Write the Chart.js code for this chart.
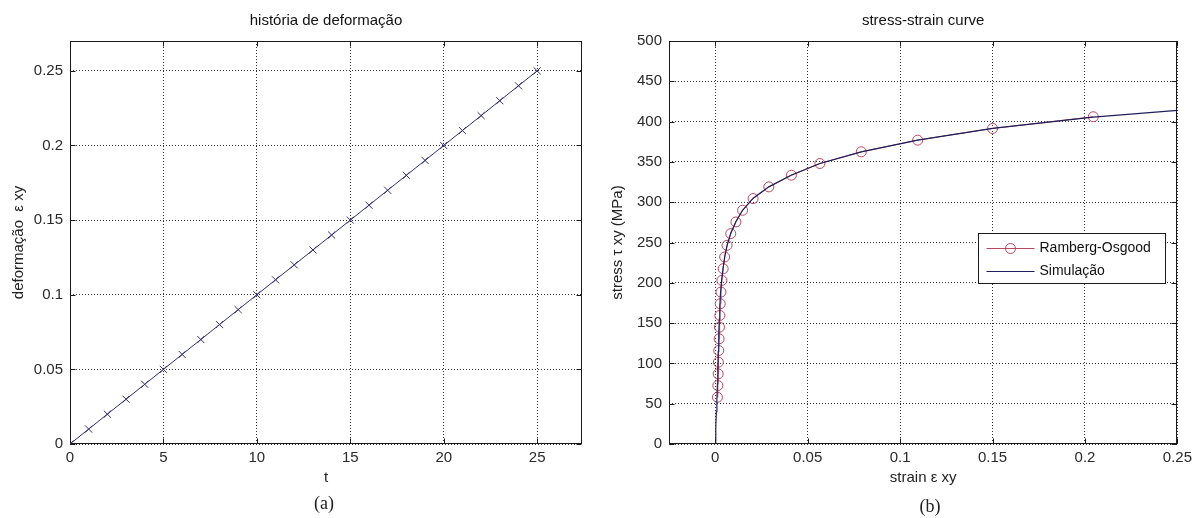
<!DOCTYPE html>
<html>
<head>
<meta charset="utf-8">
<title>história de deformação / stress-strain curve</title>
<script src="https://cdn.jsdelivr.net/npm/chart.js@4.4.0/dist/chart.umd.min.js"></script>
<style>
  body { margin: 0; background: #fff; width: 1197px; height: 518px; position: relative; overflow: hidden; }
  .panel { position: absolute; top: 0; height: 518px; }
  #left { left: 0; width: 598px; }
  #right { left: 598px; width: 599px; }
  .caption {
    position: absolute; width: 40px; text-align: center;
    font-family: "Liberation Serif", "DejaVu Serif", serif; font-size: 18px; line-height: 20px; color: #222;
  }
</style>
</head>
<body>
<div class="panel" id="left"><canvas id="strainChart" width="598" height="518"></canvas></div>
<div class="panel" id="right"><canvas id="stressChart" width="599" height="518"></canvas></div>
<div class="caption" style="left:304px; top:493px;">(a)</div>
<div class="caption" style="left:910px; top:496px;">(b)</div>

<script>
// (a) strain history
const tValues = [0, 1, 2, 3, 4, 5, 6, 7, 8, 9, 10, 11, 12, 13, 14, 15, 16, 17, 18, 19, 20, 21, 22, 23, 24, 25];
const strainHistory = [0, 0.01, 0.02, 0.03, 0.04, 0.05, 0.06, 0.07, 0.08, 0.09, 0.1, 0.11, 0.12, 0.13,
  0.14, 0.15, 0.16, 0.17, 0.18, 0.19, 0.2, 0.21, 0.22, 0.23, 0.24, 0.25];
const tTicks = [0, 5, 10, 15, 20, 25];
const strainTicks = [0, 0.05, 0.1, 0.15, 0.2, 0.25];

// (b) stress-strain curve
const roStrain = [0.0012, 0.0014, 0.0016, 0.0017, 0.0019, 0.0021, 0.0023, 0.0025, 0.0027, 0.0031, 0.0036,
  0.0043, 0.0051, 0.0064, 0.0084, 0.0112, 0.0148, 0.0205, 0.029, 0.0412, 0.0566, 0.079, 0.1095, 0.15, 0.2045];
const roStress = [58, 72.5, 87, 101.5, 116, 130.5, 145, 159.5, 174, 188.5, 203, 217.5, 232, 246.5, 261,
  275.5, 290, 304.5, 319, 333.5, 348, 362.5, 377, 391.5, 406];
const simStrain = [0, 0.0003, 0.0006, 0.0009, 0.0012, 0.0014, 0.0016, 0.0019, 0.0022, 0.0025, 0.0029, 0.0035,
  0.0043, 0.0052, 0.0065, 0.0085, 0.0112, 0.0148, 0.0205, 0.029, 0.041, 0.0566, 0.079, 0.1095, 0.15, 0.2045, 0.25];
const simStress = [0, 20, 40, 55, 75, 95, 115, 135, 155, 172, 188, 204, 219, 233, 247, 262, 276, 290, 305,
  319, 333.5, 348, 362.5, 377, 391.5, 405.5, 414];
const strainAxisTicks = [0, 0.05, 0.1, 0.15, 0.2, 0.25];
const stressTicks = [0, 50, 100, 150, 200, 250, 300, 350, 400, 450, 500];

const FONT = '"Liberation Sans", Arial, Helvetica, sans-serif';
const NAVY = '#2e2e72';
const SIM_COLOR = '#1f1f5c';
const RO_COLOR = '#b8465e';

// Pair up x and y arrays for scatter datasets
function toPoints(xs, ys) {
  return xs.map((x, i) => ({ x: x, y: ys[i] }));
}

// Build a MATLAB-looking linear axis
function makeAxis(cfg) {
  const horizontal = cfg.horizontal;
  return {
    type: 'linear',
    min: cfg.min,
    max: cfg.max,
    afterBuildTicks: function (scale) {
      scale.ticks = cfg.ticks.map(v => ({ value: v }));
    },
    afterFit: function (scale) {
      if (horizontal) scale.height = 74;
      else scale.width = cfg.width;
    },
    grid: { color: '#333', lineWidth: 1, drawTicks: false },
    border: { display: false, dash: [1, 2] },
    ticks: {
      color: '#2a2a2a',
      font: { family: FONT, size: 15 },
      padding: horizontal ? 5 : 7,
      autoSkip: false,
      maxRotation: 0,
      callback: v => String(v)
    },
    title: {
      display: true,
      text: cfg.title,
      color: '#222',
      font: { family: FONT, size: 15 },
      padding: horizontal ? { top: 0, bottom: 31 } : { top: cfg.titlePad, bottom: 0 }
    }
  };
}

// Box around the plot area with inward tick marks
const axesBox = {
  id: 'axesBox',
  beforeDatasetsDraw(chart) {
    const { ctx, chartArea: a, scales } = chart;
    const L = Math.round(a.left) + 0.5, R = Math.round(a.right) - 0.5;
    const T = Math.round(a.top) + 0.5, B = Math.round(a.bottom) - 0.5;
    const len = 5;
    ctx.save();
    ctx.strokeStyle = '#1a1a1a';
    ctx.lineWidth = 1;
    ctx.strokeRect(L, T, R - L, B - T);
    ctx.beginPath();
    scales.x.ticks.forEach(t => {
      const px = Math.round(scales.x.getPixelForValue(t.value)) + 0.5;
      ctx.moveTo(px, B); ctx.lineTo(px, B - len);
      ctx.moveTo(px, T); ctx.lineTo(px, T + len);
    });
    scales.y.ticks.forEach(t => {
      const py = Math.round(scales.y.getPixelForValue(t.value)) + 0.5;
      ctx.moveTo(L, py); ctx.lineTo(L + len, py);
      ctx.moveTo(R, py); ctx.lineTo(R - len, py);
    });
    ctx.stroke();
    ctx.restore();
  }
};

// Legend box drawn inside the plot area (right chart)
const insideLegend = {
  id: 'insideLegend',
  afterDraw(chart) {
    const { ctx, chartArea: a } = chart;
    const bx = Math.round(a.right - 199) + 0.5;
    const by = Math.round(a.top + 192) + 0.5;
    const bw = 187, bh = 50;
    ctx.save();
    ctx.fillStyle = '#fff';
    ctx.fillRect(bx, by, bw, bh);
    ctx.strokeStyle = '#1a1a1a';
    ctx.lineWidth = 1;
    ctx.strokeRect(bx, by, bw, bh);
    const order = [1, 0];
    order.forEach((di, row) => {
      const ds = chart.data.datasets[di];
      const y = Math.round(by + 14 + row * 23.5) + 0.5;
      ctx.strokeStyle = ds.borderColor;
      ctx.beginPath();
      ctx.moveTo(bx + 8, y);
      ctx.lineTo(bx + 56, y);
      ctx.stroke();
      if (ds.pointRadius > 0) {
        ctx.strokeStyle = ds.pointBorderColor;
        ctx.beginPath();
        ctx.arc(bx + 32, y, ds.pointRadius, 0, Math.PI * 2);
        ctx.stroke();
      }
      ctx.fillStyle = '#111';
      ctx.font = '14px ' + FONT;
      ctx.textBaseline = 'middle';
      ctx.fillText(ds.label, bx + 61, y);
    });
    ctx.restore();
  }
};

function titleOptions(text) {
  return {
    display: true,
    text: text,
    fullSize: false,
    color: '#111',
    font: { family: FONT, size: 15, weight: 'normal', lineHeight: 1.2 },
    padding: { top: 12, bottom: 11 }
  };
}

// (a) strain history chart
new Chart(document.getElementById('strainChart'), {
  type: 'scatter',
  data: {
    datasets: [{
      label: 'deformação',
      data: toPoints(tValues, strainHistory),
      showLine: true,
      borderColor: NAVY,
      borderWidth: 1,
      pointStyle: 'crossRot',
      pointRadius: 5,
      pointBorderColor: NAVY,
      pointBorderWidth: 1,
      backgroundColor: 'transparent'
    }]
  },
  options: {
    responsive: false,
    animation: false,
    devicePixelRatio: 1,
    layout: { padding: { left: 0, right: 16, top: 0, bottom: 0 } },
    plugins: {
      legend: { display: false },
      tooltip: { enabled: false },
      title: titleOptions('história de deformação')
    },
    scales: {
      x: makeAxis({ horizontal: true, min: 0, max: 27.4, ticks: tTicks, title: 't' }),
      y: makeAxis({ horizontal: false, min: 0, max: 0.27, ticks: strainTicks, width: 70, titlePad: 10, title: 'deformação  ε xy' })
    }
  },
  plugins: [axesBox]
});

// (b) stress-strain chart
new Chart(document.getElementById('stressChart'), {
  type: 'scatter',
  data: {
    datasets: [{
      label: 'Simulação',
      data: toPoints(simStrain, simStress),
      showLine: true,
      borderColor: SIM_COLOR,
      borderWidth: 1.2,
      pointRadius: 0,
      order: 0
    }, {
      label: 'Ramberg-Osgood',
      data: toPoints(roStrain, roStress),
      showLine: true,
      borderColor: RO_COLOR,
      borderWidth: 1,
      pointStyle: 'circle',
      pointRadius: 5,
      pointBorderColor: RO_COLOR,
      pointBorderWidth: 1,
      pointBackgroundColor: 'transparent',
      backgroundColor: 'transparent',
      order: 1
    }]
  },
  options: {
    responsive: false,
    animation: false,
    devicePixelRatio: 1,
    layout: { padding: { left: 0, right: 16, top: 0, bottom: 0 } },
    plugins: {
      legend: { display: false },
      tooltip: { enabled: false },
      title: titleOptions('stress-strain curve')
    },
    scales: {
      x: makeAxis({ horizontal: true, min: -0.025, max: 0.25, ticks: strainAxisTicks, title: 'strain ε xy' }),
      y: makeAxis({ horizontal: false, min: 0, max: 500, ticks: stressTicks, width: 71, titlePad: 11, title: 'stress τ xy (MPa)' })
    }
  },
  plugins: [axesBox, insideLegend]
});
</script>
</body>
</html>
